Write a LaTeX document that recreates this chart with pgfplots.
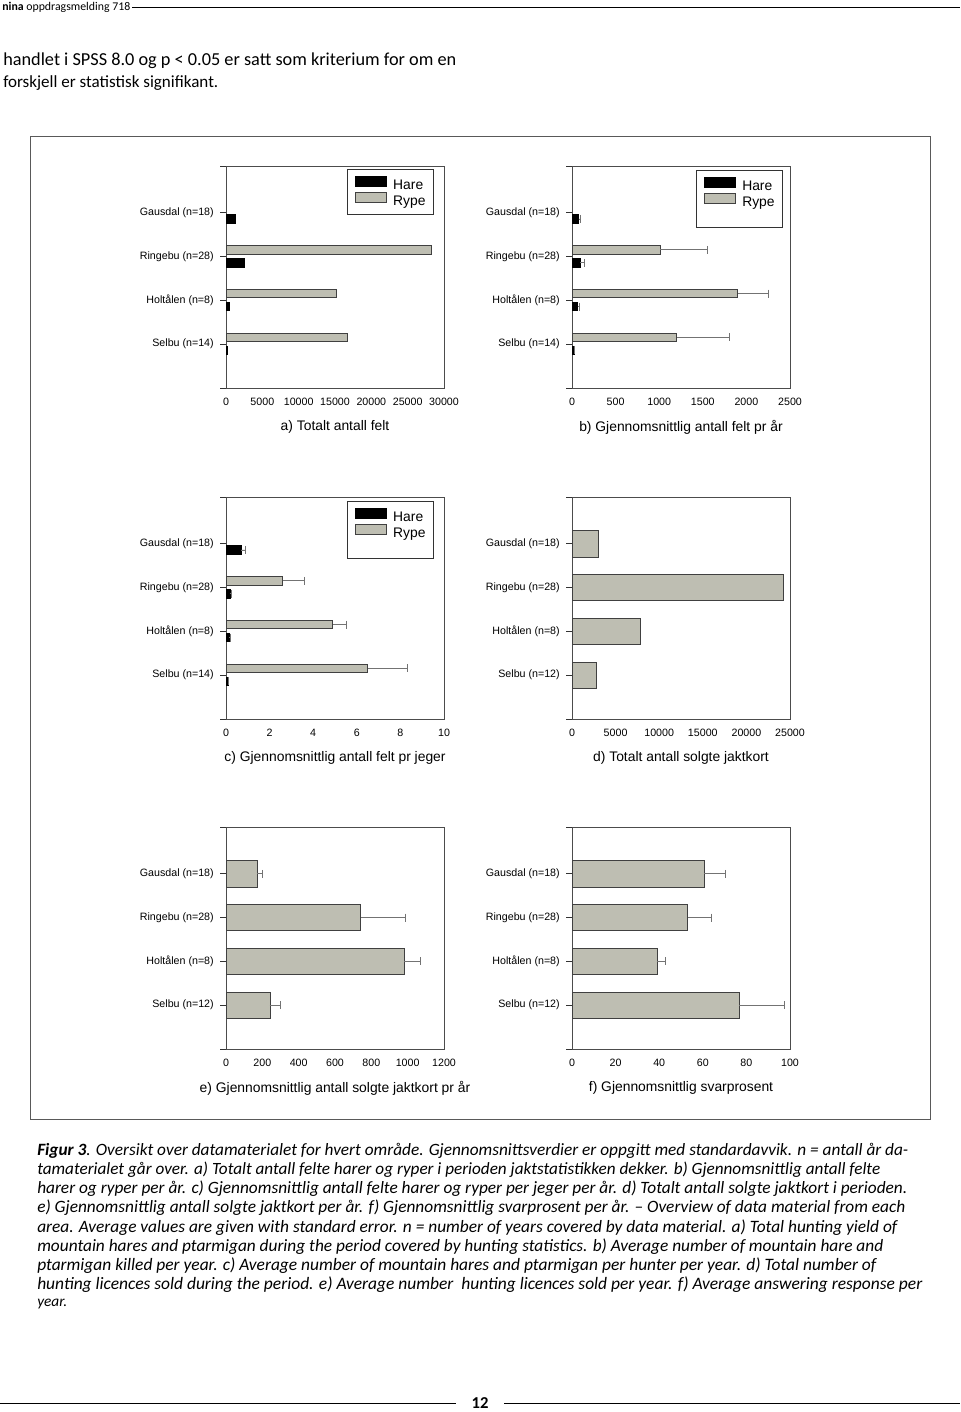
\documentclass[border=0pt]{standalone}
\usepackage{fontspec}
\setmainfont{Liberation Sans}
\newfontfamily\capfont{Carlito}
\usepackage{graphicx}
\usepackage{pgfplots}
\pgfplotsset{compat=1.18}
\definecolor{rype}{RGB}{190,190,178}

\pgfplotsset{
  panel/.style={
    width=163.5pt, height=166.5pt, scale only axis, anchor=north west,
    xmin=0, ymin=0, ymax=5.07, enlargelimits=false,
    ytick={0,1,2,3,4,5.07},
    tick pos=left,
    tick align=outside, major tick length=4.5pt,
    xtick style={draw=none},
    ytick style={black!80, line width=0.6pt},
    axis line style={black!70, line width=0.7pt},
    tick label style={font=\fontsize{8}{9.6}\selectfont},
    /pgf/number format/assume math mode=true,
    /pgf/number format/1000 sep={},
    scaled x ticks=false,
    xticklabel style={inner sep=0pt, anchor=north, text height=6pt, text depth=0pt, yshift=-2.5pt},
    yticklabel style={inner sep=0pt, anchor=east, xshift=-4.5pt},
    xlabel style={font=\fontsize{10.4}{12.5}\selectfont, at={(rel axis cs:0.5,0)}, anchor=center, yshift=-29.25pt},
    legend cell align=left,
    legend image code/.code={\draw[##1] (0pt,-0.3pt) rectangle (23.25pt,7.2pt);},
  },
  legstyle/.style 2 args={legend style={at={(#1,#2)}, anchor=north east, draw=black!80, line width=0.6pt, fill=white,
      font=\fontsize{10.4}{12.5}\selectfont, inner xsep=6pt, inner ysep=4.75pt, row sep=-0.25pt, column sep=4.8pt,
      nodes={inner sep=0pt, text height=7.5pt, text depth=2pt}}},
  padrow/.style={legend style={row 3/.style={nodes={text height=4.5pt, text depth=0pt}}}},
  rypebar/.style={xbar, bar width=0.19, bar shift=0, fill=rype, draw=black!75, line width=0.6pt},
  harebar/.style={xbar, bar width=0.19, bar shift=0, fill=black, draw=black, line width=0.6pt},
  single/.style={xbar, bar width=0.6, bar shift=0, fill=rype, draw=black!75, line width=0.6pt},
  errs/.style={error bars/x dir=plus, error bars/x explicit,
      error bars/error mark=|,
      error bars/error bar style={black!55, line width=0.6pt},
      error bars/error mark options={black!55, line width=0.6pt, mark size=3pt}},
}

\begin{document}
\begin{tikzpicture}
\path[use as bounding box] (0pt,0pt) rectangle (720pt,-1059pt);

% category positions: Gausdal=4, Ringebu=3, Holtalen=2, Selbu=1
% Rype bars sit 0.155 above the category, Hare bars 0.14 below

% a) Totalt antall felt
\begin{axis}[panel, at={(169.5pt,-124.5pt)}, xmax=30000, xtick={0,5000,...,30000},
  yticklabels={{},Selbu (n=14),Holtålen (n=8),Ringebu (n=28),Gausdal (n=18),{}},
  xlabel={a) Totalt antall felt}, legstyle={0.954}{0.986}]
\addplot[harebar] coordinates {(1300,3.86) (2500,2.86) (450,1.86) (180,0.86)};
\addplot[rypebar] coordinates {(28200,3.155) (15200,2.155) (16700,1.155)};
\legend{Hare,Rype}
\end{axis}

% b) Gjennomsnittlig antall felt pr år
\begin{axis}[panel, at={(429pt,-124.5pt)}, xmax=2500, xtick={0,500,...,2500},
  yticklabels={{},Selbu (n=14),Holtålen (n=8),Ringebu (n=28),Gausdal (n=18),{}},
  xlabel={b) Gjennomsnittlig antall felt pr år}, legstyle={0.968}{0.982}, padrow]
\addplot[harebar, errs] coordinates {(75,3.86) +- (20,0) (95,2.86) +- (42,0) (65,1.86) +- (15,0) (23,0.86) +- (5,0)};
\addplot[rypebar, errs] coordinates {(1011,3.155) +- (542,0) (1901,2.155) +- (355,0) (1202,1.155) +- (603,0)};
\addlegendimage{empty legend}
\legend{Hare,Rype,{~}}
\end{axis}

% c) Gjennomsnittlig antall felt pr jeger
\begin{axis}[panel, at={(169.5pt,-372.75pt)}, xmax=10, xtick={0,2,...,10},
  yticklabels={{},Selbu (n=14),Holtålen (n=8),Ringebu (n=28),Gausdal (n=18),{}},
  xlabel={c) Gjennomsnittlig antall felt pr jeger}, legstyle={0.954}{0.983}, padrow]
\addplot[harebar, errs] coordinates {(0.69,3.86) +- (0.2,0) (0.18,2.86) +- (0.09,0) (0.15,1.86) +- (0.03,0) (0.09,0.86) +- (0.02,0)};
\addplot[rypebar, errs] coordinates {(2.6,3.155) +- (0.99,0) (4.9,2.155) +- (0.6,0) (6.5,1.155) +- (1.8,0)};
\addlegendimage{empty legend}
\legend{Hare,Rype,{~}}
\end{axis}

% d) Totalt antall solgte jaktkort
\begin{axis}[panel, at={(429pt,-372.75pt)}, xmax=25000, xtick={0,5000,...,25000},
  yticklabels={{},Selbu (n=12),Holtålen (n=8),Ringebu (n=28),Gausdal (n=18),{}},
  xlabel={d) Totalt antall solgte jaktkort}]
\addplot[single] coordinates {(3000,4) (24200,3) (7840,2) (2830,1)};
\end{axis}

% e) Gjennomsnittlig antall solgte jaktkort pr år
\begin{axis}[panel, at={(169.5pt,-620.25pt)}, xmax=1200, xtick={0,200,...,1200},
  yticklabels={{},Selbu (n=12),Holtålen (n=8),Ringebu (n=28),Gausdal (n=18),{}},
  xlabel={e) Gjennomsnittlig antall solgte jaktkort pr år}]
\addplot[single, errs] coordinates {(172,4) +- (28,0) (742,3) +- (247,0) (980,2) +- (91,0) (242,1) +- (57,0)};
\end{axis}

% f) Gjennomsnittlig svarprosent
\begin{axis}[panel, at={(429pt,-620.25pt)}, xmax=100, xtick={0,20,...,100},
  yticklabels={{},Selbu (n=12),Holtålen (n=8),Ringebu (n=28),Gausdal (n=18),{}},
  xlabel={f) Gjennomsnittlig svarprosent}]
\addplot[single, errs] coordinates {(60.7,4) +- (9.5,0) (53.1,3) +- (11,0) (39.1,2) +- (3.6,0) (76.8,1) +- (20.4,0)};
\end{axis}

\begin{scope}[x=0.75pt, y=-0.75pt]
\draw[black!65, line width=0.75pt] (30,137) rectangle (930,1119);
% header
\node[anchor=west, inner sep=0pt] at (2,7) {\resizebox{96pt}{!}{\capfont\textbf{nina} oppdragsmelding 718}};
\draw[line width=0.6pt] (132,7) -- (960,7);
% body text
\node[anchor=west, inner sep=0pt] at (3,61) {\resizebox{339.75pt}{!}{\capfont handlet i SPSS 8.0 og p < 0.05 er satt som kriterium for om en}};
\node[anchor=west, inner sep=0pt] at (3,83) {\resizebox{161.25pt}{!}{\capfont forskjell er statistisk signifikant.}};
% caption
\node[anchor=west, inner sep=0pt] at (37,1151) {\resizebox{653.25pt}{!}{\capfont\itshape\fontsize{11}{13}\selectfont {\bfseries Figur 3}. Oversikt over datamaterialet for hvert område. Gjennomsnittsverdier er oppgitt med standardavvik. n = antall år da-}};
\node[anchor=west, inner sep=0pt] at (37,1170) {\resizebox{632.25pt}{!}{\capfont\itshape\fontsize{11}{13}\selectfont tamaterialet går over. a) Totalt antall felte harer og ryper i perioden jaktstatistikken dekker. b) Gjennomsnittlig antall felte}};
\node[anchor=west, inner sep=0pt] at (37,1189) {\resizebox{652.5pt}{!}{\capfont\itshape\fontsize{11}{13}\selectfont harer og ryper per år. c) Gjennomsnittlig antall felte harer og ryper per jeger per år. d) Totalt antall solgte jaktkort i perioden.}};
\node[anchor=west, inner sep=0pt] at (37,1208) {\resizebox{651pt}{!}{\capfont\itshape\fontsize{11}{13}\selectfont e) Gjennomsnittlig antall solgte jaktkort per år. f) Gjennomsnittlig svarprosent per år. – Overview of data material from each}};
\node[anchor=west, inner sep=0pt] at (37,1228) {\resizebox{645pt}{!}{\capfont\itshape\fontsize{11}{13}\selectfont area. Average values are given with standard error. n = number of years covered by data material. a) Total hunting yield of}};
\node[anchor=west, inner sep=0pt] at (37,1247) {\resizebox{634.5pt}{!}{\capfont\itshape\fontsize{11}{13}\selectfont mountain hares and ptarmigan during the period covered by hunting statistics. b) Average number of mountain hare and}};
\node[anchor=west, inner sep=0pt] at (37,1266) {\resizebox{629.25pt}{!}{\capfont\itshape\fontsize{11}{13}\selectfont ptarmigan killed per year. c) Average number of mountain hares and ptarmigan per hunter per year. d) Total number of}};
\node[anchor=west, inner sep=0pt] at (37,1285) {\resizebox{663.75pt}{!}{\capfont\itshape\fontsize{11}{13}\selectfont hunting licences sold during the period. e) Average number\ \ hunting licences sold per year. f) Average answering response per}};
\node[anchor=west, inner sep=0pt] at (37,1304) {\capfont\itshape\fontsize{11.5}{13}\selectfont year.};
% page number
\draw[line width=0.6pt] (0,1403) -- (456,1403);
\draw[line width=0.6pt] (504,1403) -- (960,1403);
\node at (480,1403) {\capfont\bfseries\fontsize{12.5}{14}\selectfont 12};
\end{scope}
\end{tikzpicture}
\end{document}
